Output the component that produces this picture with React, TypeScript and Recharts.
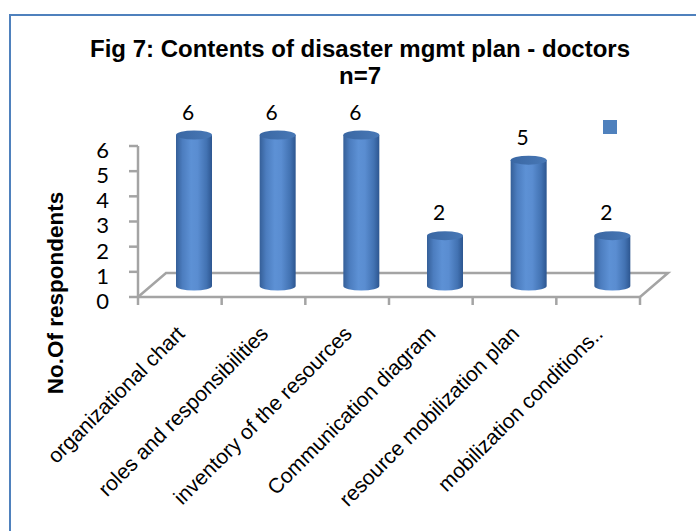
import React from 'react';
import { BarChart, Bar, XAxis, YAxis, LabelList, Legend } from 'recharts';

// Survey results: contents of the disaster management plan reported by doctors (n=7)
const categories = [
  'organizational chart',
  'roles and responsibilities',
  'inventory of the resources',
  'Communication diagram',
  'resource mobilization plan',
  'mobilization conditions..',
];
const respondents = [6, 6, 6, 2, 5, 2];
const yTicks = [0, 1, 2, 3, 4, 5, 6];

const data = categories.map((name, i) => ({ name, value: respondents[i] }));

// Layout
const W = 696;
const H = 531;
const MARGIN = { top: 146, right: 56, bottom: 84, left: 78 };
const Y_AXIS_W = 60;
const X_AXIS_H = 150;
const PLOT_LEFT = MARGIN.left + Y_AXIS_W;
const PLOT_RIGHT = W - MARGIN.right;
const PLOT_BOTTOM = H - MARGIN.bottom - X_AXIS_H;
const BAND = (PLOT_RIGHT - PLOT_LEFT) / categories.length;

// Pseudo-3D settings
const DEPTH_X = 28;
const DEPTH_Y = 24;
const BAR_DX = 14;
const BAR_DY = -11;
const RY = 4.5;

const AXIS_GRAY = '#a4a4a4';
const BLUE = '#4f81bd';
const SANS = '"Liberation Sans", Arial, sans-serif';
const NUM_FONT = 'Lato, "Liberation Sans", sans-serif';

const Defs = () => (
  <defs>
    <linearGradient id="cylBody" x1="0" y1="0" x2="1" y2="0">
      <stop offset="0%" stopColor="#355f98" />
      <stop offset="18%" stopColor="#4c7dbf" />
      <stop offset="42%" stopColor="#5d91d5" />
      <stop offset="60%" stopColor="#5a8dd1" />
      <stop offset="85%" stopColor="#4272b2" />
      <stop offset="100%" stopColor="#2d5690" />
    </linearGradient>
    <linearGradient id="cylTop" x1="0" y1="0" x2="1" y2="0">
      <stop offset="0%" stopColor="#3a67a3" />
      <stop offset="100%" stopColor="#4878b6" />
    </linearGradient>
  </defs>
);

// Floor of the 3D plot: front edge is the x axis, back edge shifted by the depth
const Floor = () => {
  const x0 = PLOT_LEFT;
  const x1 = PLOT_RIGHT;
  const y0 = PLOT_BOTTOM;
  return (
    <g>
      <Defs />
      <polyline
        points={`${x0},${y0} ${x0 + DEPTH_X},${y0 - DEPTH_Y} ${x1 + DEPTH_X},${y0 - DEPTH_Y} ${x1},${y0}`}
        fill="none"
        stroke={AXIS_GRAY}
        strokeWidth={2.5}
        strokeLinejoin="miter"
      />
    </g>
  );
};

const Cylinder = (props: any) => {
  const { x, y, width, height } = props;
  const left = x + BAR_DX;
  const right = left + width;
  const cx = left + width / 2;
  const top = y + BAR_DY;
  const bottom = y + height + BAR_DY;
  const rx = width / 2;
  return (
    <g>
      <path
        d={`M${left},${top} L${left},${bottom} A${rx},${RY} 0 0 0 ${right},${bottom} L${right},${top} Z`}
        fill="url(#cylBody)"
      />
      <ellipse cx={cx} cy={top} rx={rx} ry={RY} fill="url(#cylTop)" />
    </g>
  );
};

const ValueLabel = (props: any) => {
  const { x, y, width, value } = props;
  const cx = x + width / 2 + BAR_DX - 6;
  const cy = y + BAR_DY - 23;
  return (
    <text x={cx} y={cy} dy="0.36em" textAnchor="middle" fontFamily={NUM_FONT} fontSize={21} fill="#000">
      {value}
    </text>
  );
};

const XTick = (props: any) => {
  const { x, payload, index } = props;
  const i = index ?? payload.index;
  const bx = x - BAND / 2;
  const tx = x + 6;
  const ty = PLOT_BOTTOM + 38;
  return (
    <g>
      <line x1={bx} y1={PLOT_BOTTOM} x2={bx} y2={PLOT_BOTTOM + 8} stroke={AXIS_GRAY} strokeWidth={2.5} />
      {i === categories.length - 1 && (
        <line x1={x + BAND / 2} y1={PLOT_BOTTOM} x2={x + BAND / 2} y2={PLOT_BOTTOM + 8} stroke={AXIS_GRAY} strokeWidth={2.5} />
      )}
      <text
        x={tx}
        y={ty}
        textAnchor="end"
        transform={`rotate(-45, ${tx}, ${ty})`}
        fontFamily={SANS}
        fontSize={21}
        fill="#000"
      >
        {payload.value}
      </text>
    </g>
  );
};

const YTick = (props: any) => {
  const { x, y, payload } = props;
  return (
    <text x={x} y={y + 4} dy="0.36em" textAnchor="end" fontFamily={NUM_FONT} fontSize={22} fill="#000">
      {payload.value}
    </text>
  );
};

const Titles = () => (
  <g fontFamily={SANS} fontWeight="bold" fill="#000">
    <text x={360} y={57} textAnchor="middle" fontSize={24}>
      Fig 7: Contents of disaster mgmt plan - doctors
    </text>
    <text x={360} y={84} textAnchor="middle" fontSize={24}>
      n=7
    </text>
    <text x={63} y={293} textAnchor="middle" fontSize={22.5} transform="rotate(-90, 63, 293)">
      No.Of respondents
    </text>
  </g>
);

const LegendSwatch = () => <div style={{ width: 14, height: 14, background: BLUE }} />;

export default function App() {
  return (
    <div
      style={{
        position: 'absolute',
        left: 0,
        top: 0,
        width: W,
        height: H,
        overflow: 'hidden',
        background: '#fff',
      }}
    >
      <div
        style={{
          position: 'absolute',
          left: 9,
          top: 14,
          width: 760,
          height: 620,
          border: `2.5px solid ${BLUE}`,
          boxSizing: 'border-box',
        }}
      />
      <div style={{ position: 'absolute', left: 0, top: 0 }}>
        <BarChart width={W} height={H} data={data} margin={MARGIN} barSize={36}>
          <Floor />
          <Titles />
          <XAxis
            dataKey="name"
            interval={0}
            height={X_AXIS_H}
            tickLine={false}
            axisLine={{ stroke: AXIS_GRAY, strokeWidth: 2.5 }}
            tick={<XTick />}
          />
          <YAxis
            width={Y_AXIS_W}
            domain={[0, 6]}
            ticks={yTicks}
            interval={0}
            tickSize={9}
            tickMargin={20}
            tickLine={{ stroke: AXIS_GRAY, strokeWidth: 2.5 }}
            axisLine={{ stroke: AXIS_GRAY, strokeWidth: 2.5 }}
            tick={<YTick />}
          />
          <Legend
            layout="vertical"
            align="center"
            verticalAlign="middle"
            content={<LegendSwatch />}
            wrapperStyle={{ left: 603, top: 120, width: 14, height: 14 }}
          />
          <Bar dataKey="value" name="" fill={BLUE} shape={<Cylinder />} isAnimationActive={false}>
            <LabelList dataKey="value" content={<ValueLabel />} />
          </Bar>
        </BarChart>
      </div>
    </div>
  );
}
